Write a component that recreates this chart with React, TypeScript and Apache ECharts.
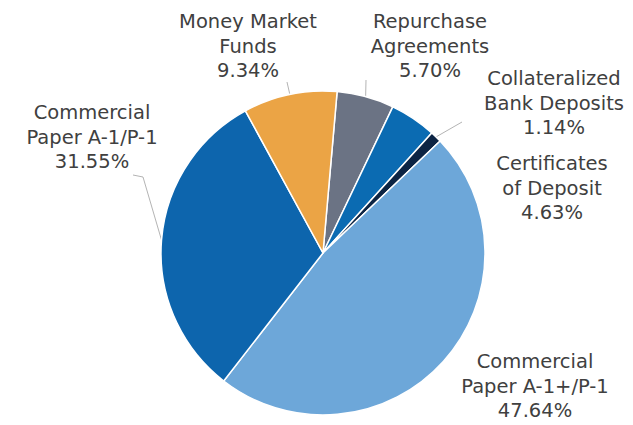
import React, { useEffect, useRef } from "react";
import * as echarts from "echarts";

const names = [
  "Repurchase\nAgreements",
  "Certificates\nof Deposit",
  "Collateralized\nBank Deposits",
  "Commercial\nPaper A-1+/P-1",
  "Commercial\nPaper A-1/P-1",
  "Money Market\nFunds",
];
const values = [5.7, 4.63, 1.14, 47.64, 31.55, 9.34];
const colors = ["#6b7384", "#0b6bb2", "#0c2444", "#6da7d9", "#0d65ad", "#eba445"];
const showLines = [true, false, true, false, true, true];

// label block centres (layout only)
const labelPos: [number, number][] = [
  [430, 46],
  [552, 188],
  [554, 103],
  [535, 386],
  [92, 137],
  [248, 46],
];
// extra leader-line points after the slice edge point (layout only)
const linePts: [number, number][][] = [
  [[366, 80]],
  [],
  [[462, 122]],
  [],
  [[143, 177], [133, 175]],
  [[287, 82]],
];

export default function App() {
  const ref = useRef<HTMLDivElement>(null);
  useEffect(() => {
    document.body.style.margin = "0";
    const chart = echarts.init(ref.current!, null, { renderer: "svg" });
    chart.setOption({
      animation: false,
      backgroundColor: "#ffffff",
      series: [
        {
          type: "pie",
          center: [323, 253],
          radius: 162,
          startAngle: 85,
          clockwise: true,
          avoidLabelOverlap: false,
          itemStyle: { borderColor: "#ffffff", borderWidth: 1.5 },
          label: {
            show: true,
            position: "outside",
            color: "#404040",
            fontFamily: "DejaVu Sans",
            fontSize: 19.5,
            lineHeight: 24.5,
            align: "center",
            formatter: (p: any) => `${p.name}\n${p.value.toFixed(2)}%`,
          },
          labelLine: {
            show: true,
            lineStyle: { color: "#b4b4b4", width: 1 },
          },
          labelLayout: (params: any) => {
            const i = params.dataIndex;
            const [x, y] = labelPos[i];
            const res: any = { x, y, align: "center", verticalAlign: "middle" };
            const pts = params.labelLinePoints;
            if (pts && pts.length) {
              res.labelLinePoints = [pts[0], ...linePts[i]];
              if (linePts[i].length === 1) res.labelLinePoints.push(linePts[i][0]);
            }
            return res;
          },
          data: names.map((n, i) => ({
            name: n,
            value: values[i],
            itemStyle: { color: colors[i] },
            labelLine: { show: showLines[i] },
          })),
        },
      ],
    });
    return () => chart.dispose();
  }, []);
  return <div ref={ref} style={{ width: 633, height: 425 }} />;
}
